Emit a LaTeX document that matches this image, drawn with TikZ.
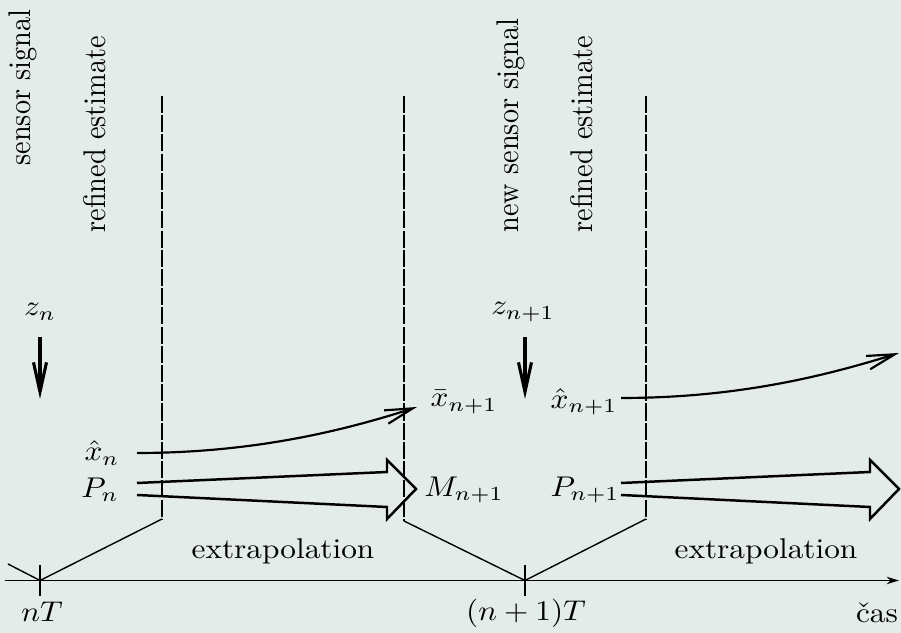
\documentclass[tikz,border=0pt]{standalone}
\usepackage{graphicx}
\usetikzlibrary{arrows.meta}
\definecolor{bg}{RGB}{227,236,233}
\newcommand\hsq[1]{\scalebox{1.01}[0.92]{#1}}
\newcommand\vsq[1]{\scalebox{0.91}[1.01]{#1}}
\begin{document}
\begin{tikzpicture}[x=0.3226pt,y=-0.3226pt,
  lbl/.style={inner sep=0pt},
  vlbl/.style={inner sep=0pt, rotate=90, anchor=base west},
  dashline/.style={line width=0.45pt, dash pattern=on 5.5pt off 0.7pt},
  thinline/.style={line width=0.45pt},
  zarrow/.style={line width=1pt, -{Straight Barb[length=9.5pt,width=4.2pt]}},
  curvearrow/.style={line width=0.7pt, -{Straight Barb[length=9pt,width=4.5pt]}},
  hollow/.style={line width=0.8pt, line join=miter},
  axisline/.style={line width=0.5pt, -{Stealth[length=4pt,width=2.4pt]}}]
\fill[bg] (0,0) rectangle (901,633);
\useasboundingbox (0,0) rectangle (901,633);
% rotated labels
\node[vlbl] (ss) at (30,166) {\vsq{sensor signal}};
\node[vlbl] (re1) at (105,233) {\vsq{refined estimate}};
\node[vlbl] (nss) at (518,233) {\vsq{new sensor signal}};
\node[vlbl] (re2) at (592,233) {\vsq{refined estimate}};
% labels
\node[lbl] (zn) at (40,312) {\hsq{$z_n$}};
\node[lbl] (zn1) at (523,312) {\hsq{$z_{n+1}$}};
\node[lbl] (xn) at (102,453) {\hsq{$\hat x_n$}};
\node[lbl] (pn) at (100,490) {\hsq{$P_n$}};
\node[lbl] (xb) at (464,402) {\hsq{$\bar x_{n+1}$}};
\node[lbl] (mn) at (464,490) {\hsq{$M_{n+1}$}};
\node[lbl] (xh) at (584,402) {\hsq{$\hat x_{n+1}$}};
\node[lbl] (pn1) at (585,490) {\hsq{$P_{n+1}$}};
\node[lbl] (ex1) at (283,551) {\hsq{extrapolation}};
\node[lbl] (ex2) at (766,551) {\hsq{extrapolation}};
\node[lbl] (nt) at (42,612) {\hsq{$nT$}};
\node[lbl] (n1t) at (526,613) {\hsq{$(n+1)T$}};
\node[lbl] (cas) at (877,613) {\hsq{čas}};
% coordinates
\coordinate (ax0) at (5,580.5);
\coordinate (ax1) at (899,580.5);
\coordinate (t0) at (40,580.5);
\coordinate (t1) at (525,580.5);
\coordinate (t0a) at (40,565); \coordinate (t0b) at (40,596);
\coordinate (t1a) at (525,565); \coordinate (t1b) at (525,596);
\coordinate (vl) at (8,564);
\coordinate (d1t) at (162,96); \coordinate (d1b) at (162,519);
\coordinate (d2t) at (404,96); \coordinate (d2b) at (404,521);
\coordinate (d3t) at (646,96); \coordinate (d3b) at (646,519);
\coordinate (za) at (40,337); \coordinate (zb) at (40,399);
\coordinate (z1a) at (525,337); \coordinate (z1b) at (525,399);
\coordinate (xs1) at (137,453); \coordinate (xe1) at (417,407);
\coordinate (xs2) at (621,398); \coordinate (xe2) at (899,353);
% axis
\draw[axisline] (ax0) -- (ax1);
\draw[thinline] (t0a) -- (t0b);
\draw[thinline] (t1a) -- (t1b);
\draw[thinline] (vl) -- (t0) -- (d1b);
\draw[thinline] (d2b) -- (t1) -- (d3b);
% dashed verticals
\draw[dashline] (d1t) -- (d1b);
\draw[dashline] (d2t) -- (d2b);
\draw[dashline] (d3t) -- (d3b);
% sensor arrows
\draw[zarrow] (za) -- (zb);
\draw[zarrow] (z1a) -- (z1b);
% state arrows
\draw[curvearrow] (xs1) .. controls (250,453) and (340,432) .. (xe1);
\draw[curvearrow] (xs2) .. controls (735,398) and (822,377) .. (xe2);
% covariance hollow arrows
\draw[hollow] (137,483) -- (387,472) -- (387,460) -- (416,489) -- (387,519) -- (387,507) -- (137,495);
\draw[hollow] (621,483) -- (870,472) -- (870,460) -- (899,489) -- (870,519) -- (870,507) -- (621,495);
\end{tikzpicture}
\end{document}
